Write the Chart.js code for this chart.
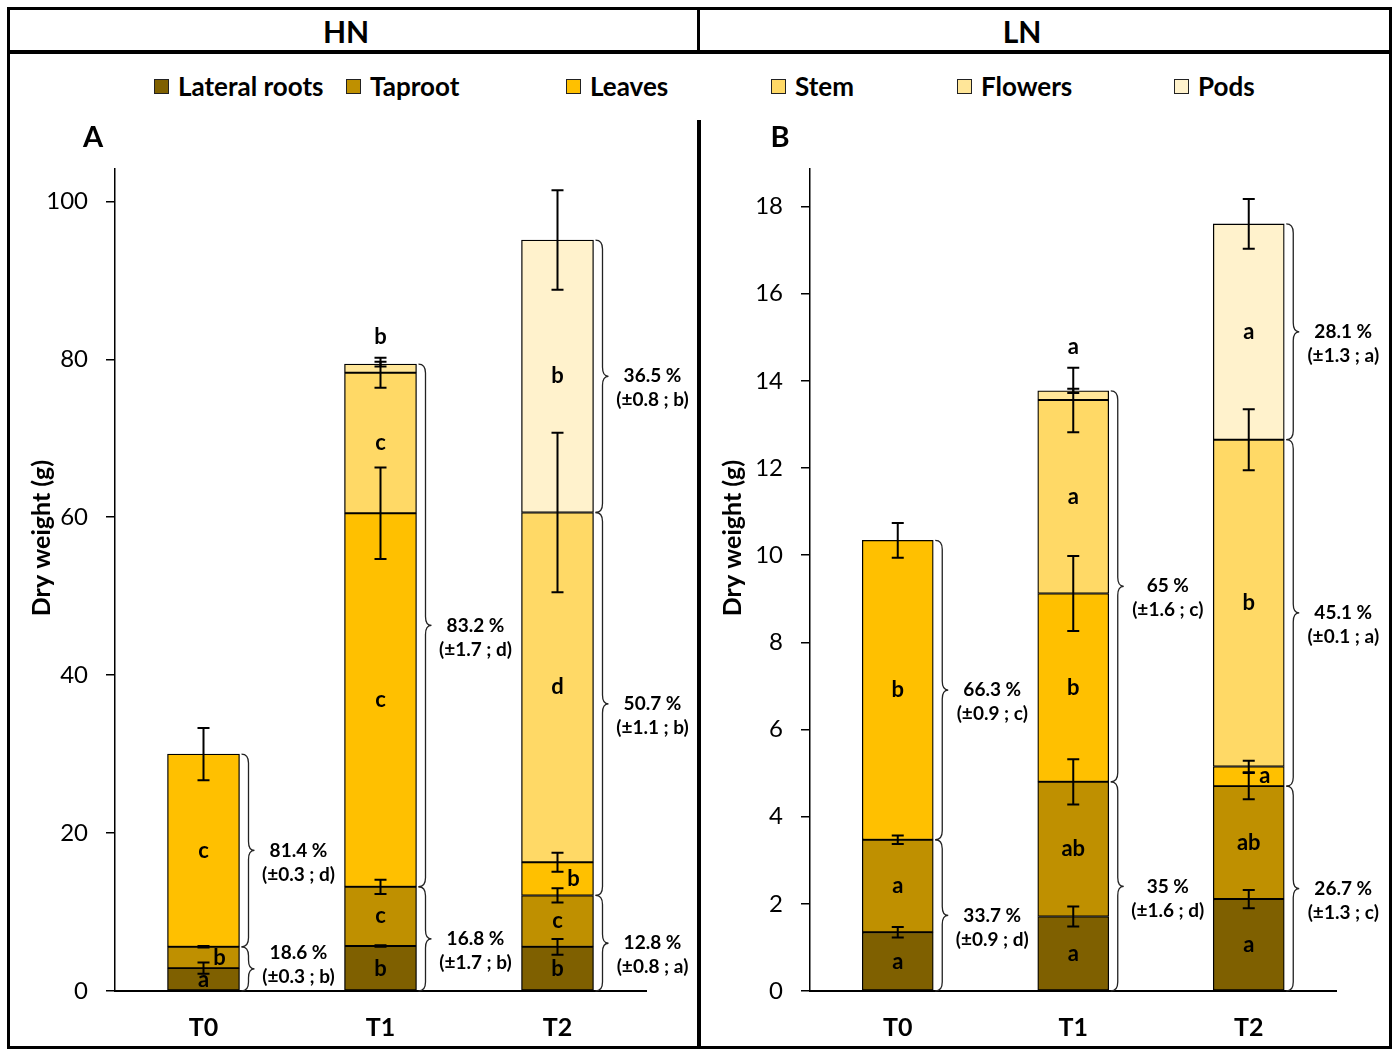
<!DOCTYPE html>
<html><head><meta charset="utf-8">
<script src="https://cdn.jsdelivr.net/npm/chart.js@4.4.1/dist/chart.umd.min.js"></script>
<style>
html,body{margin:0;padding:0;background:#fff;}
body{width:1399px;height:1050px;position:relative;overflow:hidden;font-family:Lato,'Open Sans',sans-serif;color:#000;}
.abs{position:absolute;}
.line{position:absolute;background:#000;}
.hdr{position:absolute;top:12px;height:38px;line-height:38px;font-weight:700;font-size:30px;transform:translateX(-50%);white-space:nowrap;}
.lg{position:absolute;top:72px;height:28px;line-height:28px;font-weight:700;font-size:26px;white-space:nowrap;}
.sw{position:absolute;top:79px;width:13px;height:13px;border:1.5px solid #222;}
canvas{position:absolute;top:0;}
</style>
</head><body>
<div class="line" style="left:7px;top:7px;width:1385px;height:3px"></div>
<div class="line" style="left:7px;top:1046px;width:1385px;height:3px"></div>
<div class="line" style="left:7px;top:7px;width:3px;height:1042px"></div>
<div class="line" style="left:1389px;top:7px;width:3px;height:1042px"></div>
<div class="line" style="left:7px;top:50px;width:1385px;height:4px"></div>
<div class="line" style="left:697px;top:7px;width:3px;height:46px"></div>
<div class="line" style="left:697px;top:120px;width:4px;height:929px"></div>
<div class="hdr" style="left:346px">HN</div>
<div class="hdr" style="left:1022px">LN</div>
<div id="legend"></div>
<canvas id="cA" width="697" height="1050" style="left:0px"></canvas>
<canvas id="cB" width="689" height="1050" style="left:700px"></canvas>
<script>
// ---------- data ----------
const categories = ['T0', 'T1', 'T2'];
const seriesNames = ['Lateral roots', 'Taproot', 'Leaves', 'Stem', 'Flowers', 'Pods'];
const seriesColors = ['#7F6000', '#BF9000', '#FFC000', '#FFD966', '#FFE699', '#FFF2CC'];

// HN dry weight per organ (g)
const hnLateral = [2.9, 5.7, 5.6];
const hnTaproot = [2.7, 7.5, 6.5];
const hnLeaves  = [24.4, 47.3, 4.2];
const hnStem    = [null, 17.8, 44.3];
const hnFlowers = [null, 1.1, null];
const hnPods    = [null, null, 34.5];
// HN error (±)
const hnLateralErr = [0.7, 0.1, 1.0];
const hnTaprootErr = [0.1, 0.9, 0.9];
const hnLeavesErr  = [3.3, 5.8, 1.2];
const hnStemErr    = [null, 1.9, 10.1];
const hnFlowersErr = [null, 0.3, null];
const hnPodsErr    = [null, null, 6.3];
// HN letters
const hnLateralLet = ['a', 'b', 'b'];
const hnTaprootLet = ['b', 'c', 'c'];
const hnLeavesLet  = ['c', 'c', 'b'];
const hnStemLet    = [null, 'c', 'd'];
const hnFlowersLet = [null, 'b', null];
const hnPodsLet    = [null, null, 'b'];
// HN proportion annotations
const hnPctRoots  = ['18.6 %', '16.8 %', '12.8 %'];
const hnStatRoots = ['(±0.3 ; b)', '(±1.7 ; b)', '(±0.8 ; a)'];
const hnPctShoot  = ['81.4 %', '83.2 %', '50.7 %'];
const hnStatShoot = ['(±0.3 ; d)', '(±1.7 ; d)', '(±1.1 ; b)'];
const hnPctPods   = [null, null, '36.5 %'];
const hnStatPods  = [null, null, '(±0.8 ; b)'];

// LN dry weight per organ (g)
const lnLateral = [1.35, 1.71, 2.11];
const lnTaproot = [2.12, 3.09, 2.59];
const lnLeaves  = [6.87, 4.32, 0.45];
const lnStem    = [null, 4.44, 7.50];
const lnFlowers = [null, 0.21, null];
const lnPods    = [null, null, 4.95];
// LN error (±)
const lnLateralErr = [0.12, 0.23, 0.21];
const lnTaprootErr = [0.1, 0.52, 0.3];
const lnLeavesErr  = [0.4, 0.86, 0.13];
const lnStemErr    = [null, 0.74, 0.7];
const lnFlowersErr = [null, 0.05, null];
const lnPodsErr    = [null, null, 0.57];
// LN letters
const lnLateralLet = ['a', 'a', 'a'];
const lnTaprootLet = ['a', 'ab', 'ab'];
const lnLeavesLet  = ['b', 'b', 'a'];
const lnStemLet    = [null, 'a', 'b'];
const lnFlowersLet = [null, 'a', null];
const lnPodsLet    = [null, null, 'a'];
// LN proportion annotations
const lnPctRoots  = ['33.7 %', '35 %', '26.7 %'];
const lnStatRoots = ['(±0.9 ; d)', '(±1.6 ; d)', '(±1.3 ; c)'];
const lnPctShoot  = ['66.3 %', '65 %', '45.1 %'];
const lnStatShoot = ['(±0.9 ; c)', '(±1.6 ; c)', '(±0.1 ; a)'];
const lnPctPods   = [null, null, '28.1 %'];
const lnStatPods  = [null, null, '(±1.3 ; a)'];

// brace groups (series index ranges): roots, vegetative shoot, pods
const braceFrom = [0, 2, 5];
const braceTo   = [1, 4, 5];

const hnTicks = [0, 20, 40, 60, 80, 100];
const lnTicks = [0, 2, 4, 6, 8, 10, 12, 14, 16, 18];

// ---------- legend (html) ----------
const legendLeft = [154, 346, 566, 771, 957, 1174];
const lg = document.getElementById('legend');
seriesNames.forEach((n, i) => {
  const s = document.createElement('div'); s.className = 'sw';
  s.style.left = legendLeft[i] + 'px'; s.style.background = seriesColors[i];
  const t = document.createElement('div'); t.className = 'lg';
  t.style.left = (legendLeft[i] + 24) + 'px'; t.textContent = n;
  lg.appendChild(s); lg.appendChild(t);
});

// ---------- charts ----------
const FONT = 'Lato, "Open Sans", sans-serif';

function extrasPlugin(cfg) {
  return {
    id: 'extras',
    afterDatasetsDraw(chart) {
      const ctx = chart.ctx, ys = chart.scales.y, xs = chart.scales.x;
      const nS = cfg.values.length;
      ctx.save();
      for (let b = 0; b < categories.length; b++) {
        const cum = [0];
        for (let s = 0; s < nS; s++) cum.push(cum[s] + (cfg.values[s][b] || 0));
        const xc = xs.getPixelForValue(b);
        const half = cfg.barW / 2;
        // error bars
        let topWhisker = Infinity;
        ctx.strokeStyle = '#000'; ctx.lineWidth = 2;
        for (let s = 0; s < nS; s++) {
          const e = cfg.errors[s][b];
          if (e == null || !cfg.values[s][b]) continue;
          const yT = ys.getPixelForValue(cum[s + 1] + e), yB = ys.getPixelForValue(cum[s + 1] - e);
          topWhisker = Math.min(topWhisker, yT);
          ctx.beginPath();
          ctx.moveTo(xc, yT); ctx.lineTo(xc, yB);
          ctx.moveTo(xc - 6, yT); ctx.lineTo(xc + 6, yT);
          ctx.moveTo(xc - 6, yB); ctx.lineTo(xc + 6, yB);
          ctx.stroke();
        }
        // letters
        let lastS = -1;
        for (let s = 0; s < nS; s++) if (cfg.values[s][b]) lastS = s;
        ctx.fillStyle = '#000';
        ctx.font = 'bold 22px ' + FONT;
        ctx.textAlign = 'center'; ctx.textBaseline = 'middle';
        for (let s = 0; s < nS; s++) {
          const L = cfg.letters[s][b];
          if (!L || !cfg.values[s][b]) continue;
          const y0 = ys.getPixelForValue(cum[s]), y1 = ys.getPixelForValue(cum[s + 1]);
          const seg = y0 - y1;
          let tx = xc, ty = (y0 + y1) / 2;
          if (s === lastS && seg < 20) { ty = topWhisker - 21; }
          else if (s !== 0 && seg < 36) { tx = xc + 16; }
          ctx.fillText(L, tx, ty);
        }
        // braces
        const right = xc + half;
        for (let g = 0; g < braceFrom.length; g++) {
          const pct = cfg.pct[g][b];
          if (!pct) continue;
          const yBot = ys.getPixelForValue(cum[braceFrom[g]]);
          const yTop = ys.getPixelForValue(cum[braceTo[g] + 1]);
          const ym = (yTop + yBot) / 2;
          const x0 = right + 2, x1 = right + 9, x2 = right + 15;
          const r = Math.min(9, (yBot - yTop) / 4);
          ctx.strokeStyle = '#222'; ctx.lineWidth = 1.3;
          ctx.beginPath();
          ctx.moveTo(x0, yTop);
          ctx.quadraticCurveTo(x1, yTop, x1, yTop + r);
          ctx.lineTo(x1, ym - r);
          ctx.quadraticCurveTo(x1, ym, x2, ym);
          ctx.quadraticCurveTo(x1, ym, x1, ym + r);
          ctx.lineTo(x1, yBot - r);
          ctx.quadraticCurveTo(x1, yBot, x0, yBot);
          ctx.stroke();
          let l1 = ym, l2 = ym + 24;
          const maxY = ys.bottom - 14;
          if (l2 > maxY) { l1 -= (l2 - maxY); l2 = maxY; }
          ctx.font = 'bold 19px ' + FONT;
          ctx.fillText(pct, right + 59, l1);
          ctx.fillText(cfg.stat[g][b], right + 59, l2);
        }
      }
      ctx.restore();
    },
    afterDraw(chart) {
      const ctx = chart.ctx;
      ctx.save();
      ctx.fillStyle = '#000';
      ctx.textAlign = 'center'; ctx.textBaseline = 'middle';
      ctx.font = 'bold 29px ' + FONT;
      ctx.fillText(cfg.panel, cfg.panelX, 138);
      ctx.translate(cfg.titleX, 538);
      ctx.rotate(-Math.PI / 2);
      ctx.font = 'bold 25px ' + FONT;
      ctx.fillText('Dry weight (g)', 0, 0);
      ctx.restore();
    }
  };
}

function makeChart(id, cfg) {
  const datasets = seriesNames.map((n, i) => ({
    label: n,
    data: cfg.values[i],
    backgroundColor: seriesColors[i],
    borderColor: '#000',
    borderWidth: 1.3,
    borderSkipped: false,
    barThickness: cfg.barW
  }));
  return new Chart(document.getElementById(id), {
    type: 'bar',
    data: { labels: categories, datasets },
    options: {
      responsive: false, animation: false, devicePixelRatio: 1,
      layout: { padding: { top: 169, right: cfg.padRight, bottom: 0, left: 0 } },
      plugins: { legend: { display: false }, tooltip: { enabled: false } },
      scales: {
        x: {
          stacked: true,
          grid: { display: false, drawTicks: false },
          border: { display: true, color: '#000', width: 2 },
          ticks: { color: '#000', font: { family: FONT, size: 25, weight: 'bold' }, padding: 22 },
          afterFit: (s) => { s.height = 1050 - 991; }
        },
        y: {
          stacked: true, min: 0, max: cfg.max,
          grid: { drawOnChartArea: false, drawTicks: true, tickLength: 9, color: '#000', lineWidth: 1.5 },
          border: { display: true, color: '#000', width: 1.5 },
          ticks: { color: '#000', font: { family: FONT, size: 24 }, padding: 18 },
          afterBuildTicks: (s) => { s.ticks = cfg.ticks.map(v => ({ value: v })); },
          afterFit: (s) => { s.width = cfg.axisX; }
        }
      }
    },
    plugins: [extrasPlugin(cfg)]
  });
}

makeChart('cA', {
  values: [hnLateral, hnTaproot, hnLeaves, hnStem, hnFlowers, hnPods],
  errors: [hnLateralErr, hnTaprootErr, hnLeavesErr, hnStemErr, hnFlowersErr, hnPodsErr],
  letters: [hnLateralLet, hnTaprootLet, hnLeavesLet, hnStemLet, hnFlowersLet, hnPodsLet],
  pct: [hnPctRoots, hnPctShoot, hnPctPods],
  stat: [hnStatRoots, hnStatShoot, hnStatPods],
  ticks: hnTicks, max: 104.1, barW: 72, axisX: 115, padRight: 697 - 646,
  panel: 'A', panelX: 93, titleX: 42
});
makeChart('cB', {
  values: [lnLateral, lnTaproot, lnLeaves, lnStem, lnFlowers, lnPods],
  errors: [lnLateralErr, lnTaprootErr, lnLeavesErr, lnStemErr, lnFlowersErr, lnPodsErr],
  letters: [lnLateralLet, lnTaprootLet, lnLeavesLet, lnStemLet, lnFlowersLet, lnPodsLet],
  pct: [lnPctRoots, lnPctShoot, lnPctPods],
  stat: [lnStatRoots, lnStatShoot, lnStatPods],
  ticks: lnTicks, max: 18.86, barW: 71, axisX: 110, padRight: 689 - 636.5,
  panel: 'B', panelX: 80, titleX: 33
});
</script>
</body></html>
